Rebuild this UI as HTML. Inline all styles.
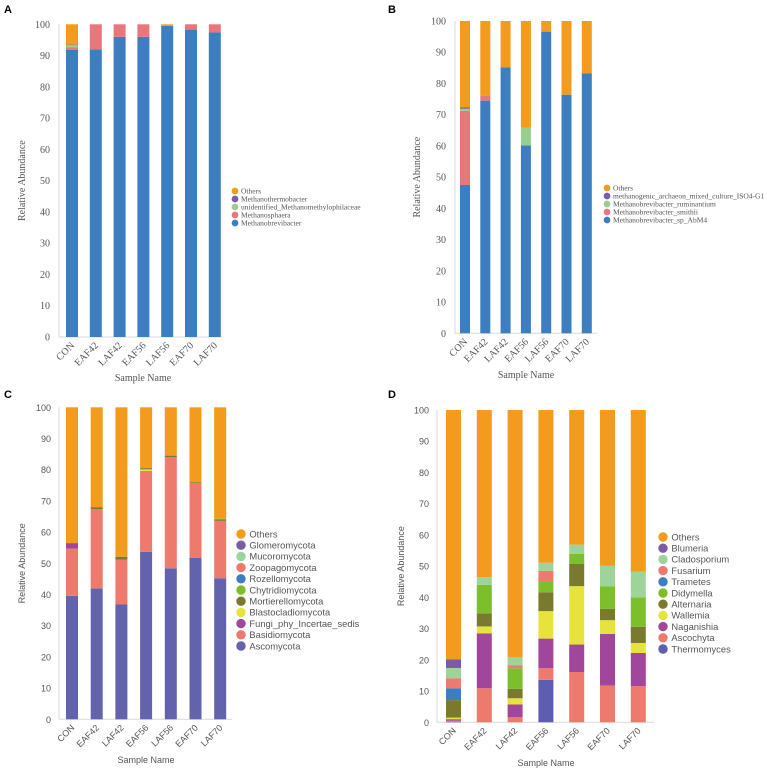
<!DOCTYPE html>
<html><head><meta charset="utf-8"><style>
body{margin:0;background:#fff}
svg{display:block}
</style></head><body>
<svg id="fig" width="767" height="771" viewBox="0 0 767 771" xmlns="http://www.w3.org/2000/svg"></svg>
<script>
const samples = ["CON","EAF42","LAF42","EAF56","LAF56","EAF70","LAF70"];
const yTicks = [0,10,20,30,40,50,60,70,80,90,100];

// Panel A (bottom -> top)
const aTaxa = ["Methanobrevibacter","Methanosphaera","unidentified_Methanomethylophilaceae","Methanothermobacter","Others"];
const aColors = ["#3D7EC0","#E8767A","#98CF8F","#7A5BA8","#F29B1D"];
const aBrevibacter = [91.8,92.0,96.0,96.0,99.5,98.3,97.4];
const aSphaera = [0.9,8.0,4.0,4.0,0,1.7,2.6];
const aUnident = [0.6,0,0,0,0,0,0];
const aThermo = [0.2,0,0,0,0,0,0];

// Panel B
const bTaxa = ["Methanobrevibacter_sp_AbM4","Methanobrevibacter_smithii","Methanobrevibacter_ruminantium","methanogenic_archaeon_mixed_culture_ISO4-G1","Others"];
const bColors = ["#3D7EC0","#E8767A","#98CF8F","#7A5BA8","#F29B1D"];
const bAbM4 = [47.5,74.5,85.2,60.2,96.6,76.4,83.2];
const bSmithii = [23.7,1.5,0,0,0,0,0];
const bRumin = [0.7,0,0,5.6,0,0,0];
const bISO4 = [0.4,0,0,0,0,0,0];

// Panel C
const cTaxa = ["Ascomycota","Basidiomycota","Fungi_phy_Incertae_sedis","Blastocladiomycota","Mortierellomycota","Chytridiomycota","Rozellomycota","Zoopagomycota","Mucoromycota","Glomeromycota","Others"];
const cColors = ["#6262AD","#EE7A6E","#A1479B","#E6E33C","#7A7A2E","#7CBF2A","#3C7FC1","#EE7A6E","#9ED39A","#7B5BA8","#F29B1D"];
const cAsco = [39.6,41.9,36.8,53.7,48.4,51.8,45.2];
const cBasid = [15.1,25.5,14.4,25.9,35.6,23.9,18.4];
const cFungiPhy = [1.5,0,0,0,0,0,0];
const cBlasto = [0,0,0,0.5,0,0,0];
const cMortier = [0.3,0.6,0.9,0.4,0.4,0.3,0.5];
const cChytrid = [0,0,0,0.3,0.3,0,0.2];
const cRozello = [0,0,0,0,0,0,0];
const cZoopago = [0,0,0,0,0,0,0];
const cMucoro = [0,0,0,0,0,0,0];
const cGlomero = [0,0,0,0,0,0,0];

// Panel D
const dTaxa = ["Thermomyces","Ascochyta","Naganishia","Wallemia","Alternaria","Didymella","Trametes","Fusarium","Cladosporium","Blumeria","Others"];
const dColors = ["#5E5EB0","#EE7A6E","#A1479B","#E6E33C","#7A7A2E","#7CBF2A","#3C7FC1","#EE7A6E","#9ED39A","#7B5BA8","#F29B1D"];
const dThermo = [0.2,0,0,13.6,0,0,0];
const dAscochyta = [0.3,10.9,1.6,3.7,16.1,11.8,11.6];
const dNaga = [0.5,17.6,4.1,9.5,8.8,16.5,10.6];
const dWallemia = [0.5,2.2,2.0,8.8,18.7,4.4,3.2];
const dAlternaria = [5.6,4.2,3.0,6.0,7.1,3.6,5.2];
const dDidymella = [0,9.1,6.6,3.5,3.2,7.2,9.4];
const dTrametes = [3.8,0,0,0,0,0,0];
const dFusarium = [3.2,0,1.0,3.4,0,0,0];
const dClado = [3.3,2.5,2.5,2.6,3.0,6.7,8.2];
const dBlumeria = [2.8,0,0,0,0,0,0];

const NS = "http://www.w3.org/2000/svg";
const svg = document.getElementById("fig");
function mk(tag, attrs, parent){
  const e = document.createElementNS(NS, tag);
  for (const k in attrs) e.setAttribute(k, attrs[k]);
  (parent||svg).appendChild(e);
  return e;
}
function withOthers(series){
  const others = samples.map((s,i)=>Math.max(0,100-series.reduce((a,ser)=>a+ser[i],0)));
  return series.concat([others]);
}

const panels = [
  {id:"a", label:"A", lx:4, ly:13, font:"'Liberation Serif', serif", tickFs:10, legFs:7.5, legStep:8,
   x0:59, x1:223, yTop:24.3, yBot:337, c0:72, step:23.8, bw:12, tickX:50, titleX:22,
   nameX:143, nameY:381, legX:235, legY:191, taxa:aTaxa, colors:aColors,
   series:withOthers([aBrevibacter,aSphaera,aUnident,aThermo])},
  {id:"b", label:"B", lx:388, ly:13, font:"'Liberation Serif', serif", tickFs:10, legFs:7.5, legStep:8,
   x0:455, x1:597, yTop:21, yBot:333.3, c0:465, step:20.3, bw:10, tickX:446, titleX:417,
   nameX:526, nameY:378, legX:607, legY:188, taxa:bTaxa, colors:bColors,
   series:withOthers([bAbM4,bSmithii,bRumin,bISO4])},
  {id:"c", label:"C", lx:4, ly:398, font:"'Liberation Sans', sans-serif", tickFs:9, legFs:9.4, legStep:11.2,
   x0:59, x1:232, yTop:407.3, yBot:719.3, c0:72, step:24.7, bw:12, tickX:51, titleX:22,
   nameX:146, nameY:763, legX:241, legY:534, taxa:cTaxa, colors:cColors,
   series:withOthers([cAsco,cBasid,cFungiPhy,cBlasto,cMortier,cChytrid,cRozello,cZoopago,cMucoro,cGlomero])},
  {id:"d", label:"D", lx:388, ly:398, font:"'Liberation Sans', sans-serif", tickFs:9, legFs:9.4, legStep:11.2,
   x0:437, x1:654, yTop:410, yBot:722.3, c0:453.5, step:30.8, bw:15, tickX:429, titleX:401,
   nameX:546, nameY:766, legX:663, legY:537, taxa:dTaxa, colors:dColors,
   series:withOthers([dThermo,dAscochyta,dNaga,dWallemia,dAlternaria,dDidymella,dTrametes,dFusarium,dClado,dBlumeria])}
];

panels.forEach(p=>{
  const g = mk("g",{"font-family":p.font});
  
  
  const yS = v => p.yBot - (v/100)*(p.yBot-p.yTop);
  const xS = i => p.c0 + i*p.step;

  const pl = mk("text",{x:p.lx,y:p.ly,"font-family":"'Liberation Sans', sans-serif","font-weight":"bold","font-size":11,fill:"#000"},g);
  pl.textContent = p.label;
  
  

  const ya = mk("line",{x1:p.x0,x2:p.x0,y1:p.yTop,y2:p.yBot,stroke:"#d9d9d9","stroke-width":1},g);
  
  
  const xa = mk("line",{x1:p.x0,x2:p.x1,y1:p.yBot,y2:p.yBot,stroke:"#d9d9d9","stroke-width":1},g);
  
  

  yTicks.forEach(t=>{
    const tl = mk("text",{x:p.tickX,y:yS(t)+3.5,"text-anchor":"end","font-size":p.tickFs,fill:"#555"},g);
    tl.textContent = t;
    
    
  });

  samples.forEach((s,i)=>{
    let acc = 0;
    p.series.forEach((ser,k)=>{
      const v = ser[i];
      if (v<=0) return;
      const r = mk("rect",{x:xS(i)-p.bw/2,y:yS(acc+v),width:p.bw,height:yS(acc)-yS(acc+v),fill:p.colors[k]},g);
      
      
      acc += v;
    });
    const xl = mk("text",{x:0,y:0,"text-anchor":"end","font-size":p.tickFs,fill:"#555",
      transform:`translate(${xS(i)+3},${p.yBot+9}) rotate(-45)`},g);
    xl.textContent = s;
    
    
  });

  const yt = mk("text",{x:0,y:0,"text-anchor":"middle","font-size":p.tickFs,fill:"#555",
    transform:`translate(${p.titleX+3},${(p.yTop+p.yBot)/2}) rotate(-90)`},g);
  yt.textContent = "Relative Abundance";
  
  

  const xt = mk("text",{x:p.nameX,y:p.nameY,"text-anchor":"middle","font-size":p.tickFs,fill:"#555"},g);
  xt.textContent = "Sample Name";
  
  

  const n = p.taxa.length;
  for (let j=0;j<n;j++){
    const k = n-1-j;
    const ly = p.legY + j*p.legStep;
    const lg = mk("g",{},g);
    
    
    mk("circle",{cx:p.legX,cy:ly,r:p.legStep*0.42,fill:p.colors[k]},lg);
    const lt = mk("text",{x:p.legX+p.legStep*0.75,y:ly+p.legFs*0.35,"font-size":p.legFs,fill:"#555"},lg);
    lt.textContent = p.taxa[k];
  }
});
</script>
</body></html>
